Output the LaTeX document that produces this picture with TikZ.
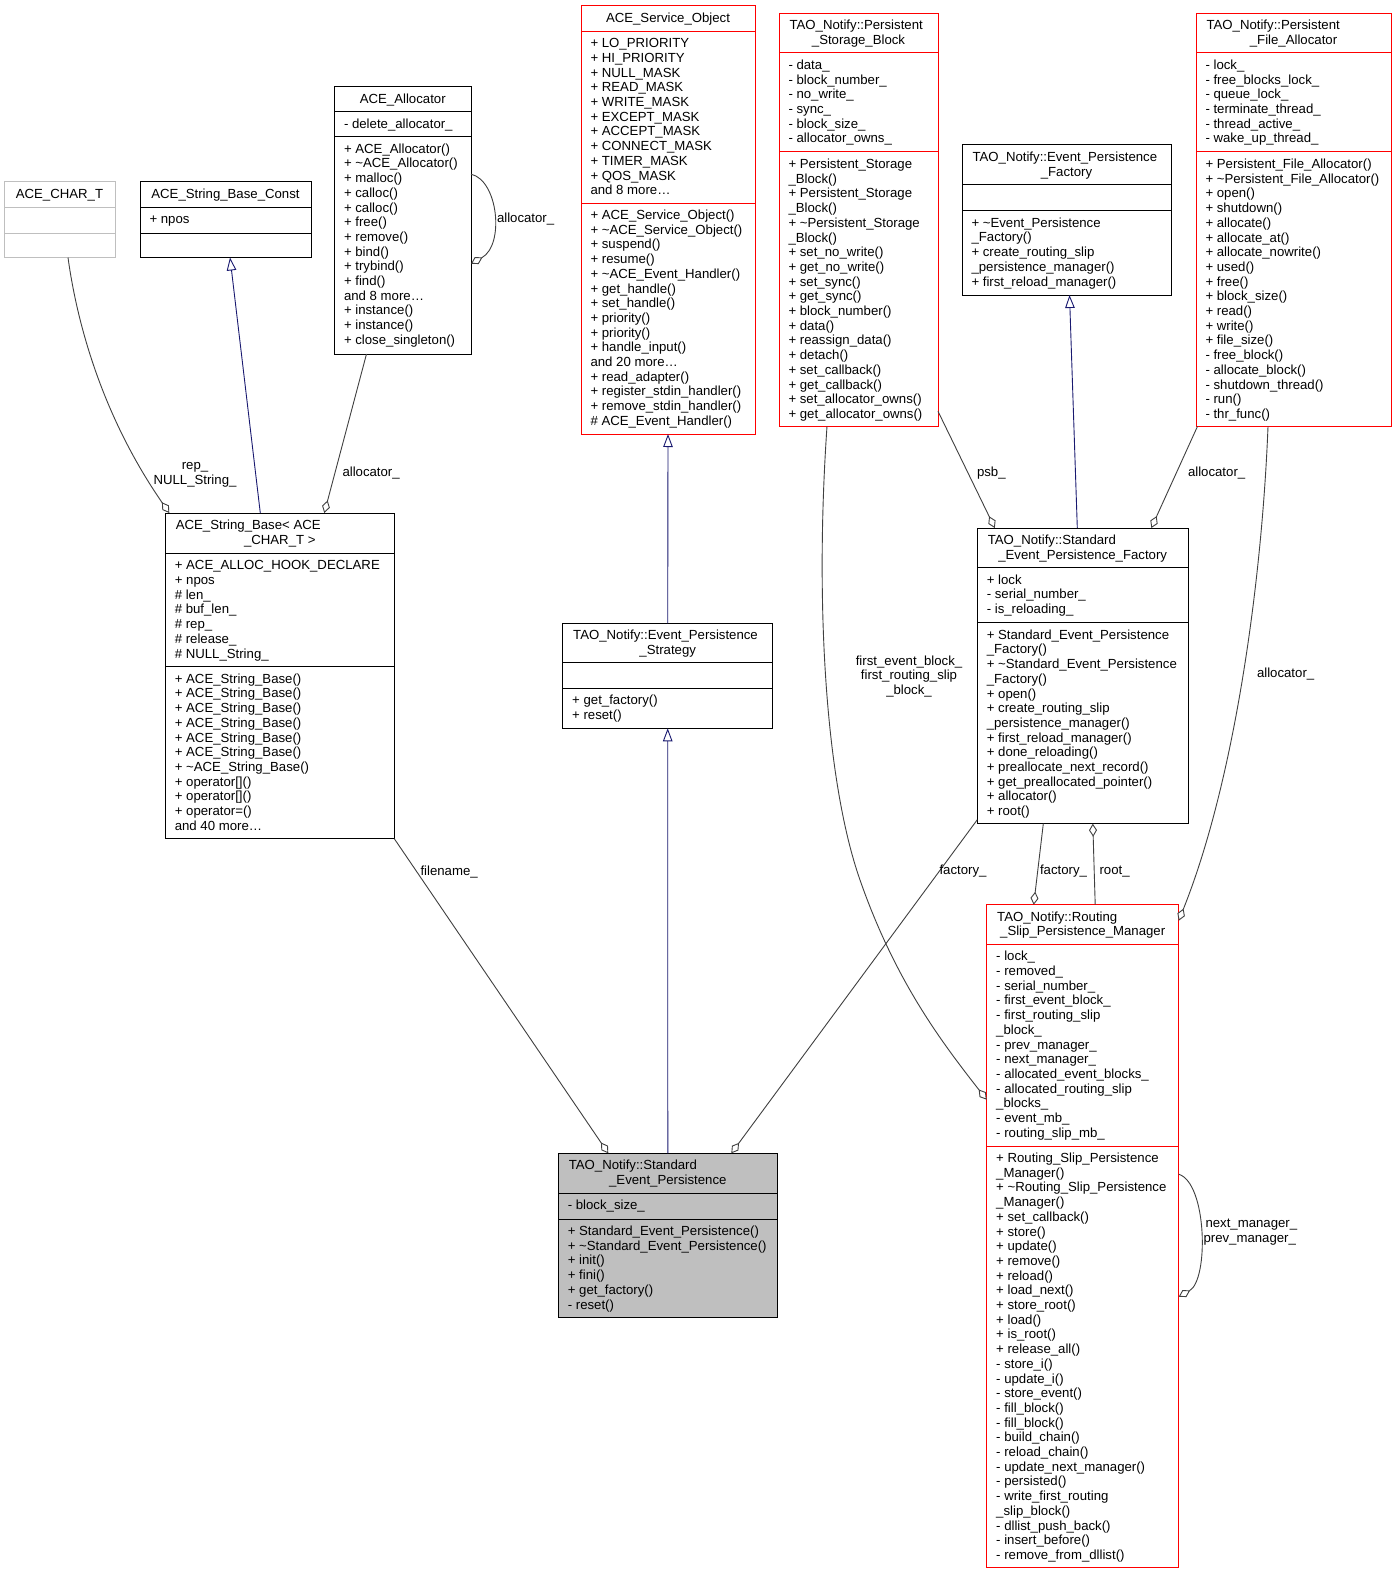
\documentclass[tikz,border=0pt]{standalone}
\usepackage{fontspec}
\setmainfont{Liberation Sans}
\usetikzlibrary{arrows.meta,calc,fit}
\definecolor{grey25}{HTML}{404040}
\definecolor{grey75}{HTML}{BFBFBF}
\definecolor{navyblue}{HTML}{191970}
\definecolor{boxred}{HTML}{FF0000}
\tikzset{
  txt/.style={inner sep=0pt, outer sep=0pt, font=\fontsize{13.2}{14.7}\selectfont},
  mem/.style={txt, anchor=base west},
  ctr/.style={txt, anchor=base},
  cls/.style={draw=black, line width=1pt, inner sep=0pt, outer sep=0pt},
  agg/.style={draw=grey25, line width=0.9pt, -{Diamond[fill=white, length=13pt, width=8pt]}},
  inh/.style={draw=navyblue, line width=0.9pt, -{Triangle[fill=white, length=13pt, width=9.5pt]}},
}
\newcommand\cbox[6]{\node[cls, fit={(#2,#3) (#4,#5)}, #6] (#1) {};}
\newcommand\divl[4]{\draw[line width=1pt, #4] (#1,#3) -- (#2,#3);}
\newcommand\mems[4]{\foreach \lbl [count=\i from 0] in {#4} {\node[mem] (#1\i) at (#2, #3+16.5+\i*14.7) {\lbl};}}
\newcommand\titleL[4]{\node[mem] (#1) at (#2,#3) {#4};}
\newcommand\titleC[4]{\node[ctr] (#1) at (#2,#3) {#4};}
\begin{document}
\begin{tikzpicture}[x=1pt,y=-1pt]
\fill[white] (0,0) rectangle (1396,1573);
\useasboundingbox (0,0) rectangle (1396,1573);

% ACE_CHAR_T
\cbox{charT}{4}{181.5}{115}{257.5}{draw=grey75}
\divl{4}{115}{207}{grey75}
\divl{4}{115}{233}{grey75}
\titleC{charTt}{59.5}{198}{ACE\_CHAR\_T}

% ACE_String_Base_Const
\cbox{sbconst}{140}{181.5}{311}{257.5}{}
\divl{140}{311}{207}{black}
\divl{140}{311}{233}{black}
\titleC{sbconstt}{225.5}{198}{ACE\_String\_Base\_Const}
\mems{sbca}{149.5}{207}{{+ npos}}

% ACE_Allocator
\cbox{alloc}{334.5}{86.7}{471}{354}{}
\divl{334.5}{471}{112}{black}
\divl{334.5}{471}{136.7}{black}
\titleC{alloct}{402.75}{103.2}{ACE\_Allocator}
\mems{alloca}{344}{112}{{- delete\_allocator\_}}
\mems{allocm}{344}{136.7}{{+ ACE\_Allocator()},{+ \textasciitilde ACE\_Allocator()},{+ malloc()},{+ calloc()},{+ calloc()},{+ free()},{+ remove()},{+ bind()},{+ trybind()},{+ find()},{and 8 more\ldots},{+ instance()},{+ instance()},{+ close\_singleton()}}

% ACE_Service_Object
\cbox{serv}{581}{5.7}{755}{434}{draw=boxred}
\divl{581}{755}{31.3}{boxred}
\divl{581}{755}{203}{boxred}
\titleC{servt}{668}{22.2}{ACE\_Service\_Object}
\mems{serva}{590.5}{31.3}{{+ LO\_PRIORITY},{+ HI\_PRIORITY},{+ NULL\_MASK},{+ READ\_MASK},{+ WRITE\_MASK},{+ EXCEPT\_MASK},{+ ACCEPT\_MASK},{+ CONNECT\_MASK},{+ TIMER\_MASK},{+ QOS\_MASK},{and 8 more\ldots}}
\mems{servm}{590.5}{203}{{+ ACE\_Service\_Object()},{+ \textasciitilde ACE\_Service\_Object()},{+ suspend()},{+ resume()},{+ \textasciitilde ACE\_Event\_Handler()},{+ get\_handle()},{+ set\_handle()},{+ priority()},{+ priority()},{+ handle\_input()},{and 20 more\ldots},{+ read\_adapter()},{+ register\_stdin\_handler()},{+ remove\_stdin\_handler()},{\# ACE\_Event\_Handler()}}

% TAO_Notify::Persistent_Storage_Block
\cbox{psb}{779}{13.3}{938}{426.3}{draw=boxred}
\divl{779}{938}{53}{boxred}
\divl{779}{938}{152}{boxred}
\titleL{psbt1}{789.5}{29.8}{TAO\_Notify::Persistent}
\titleC{psbt2}{858.5}{44.5}{\_Storage\_Block}
\mems{psba}{788.5}{53}{{- data\_},{- block\_number\_},{- no\_write\_},{- sync\_},{- block\_size\_},{- allocator\_owns\_}}
\mems{psbm}{788.5}{152}{{+ Persistent\_Storage},{\_Block()},{+ Persistent\_Storage},{\_Block()},{+ \textasciitilde Persistent\_Storage},{\_Block()},{+ set\_no\_write()},{+ get\_no\_write()},{+ set\_sync()},{+ get\_sync()},{+ block\_number()},{+ data()},{+ reassign\_data()},{+ detach()},{+ set\_callback()},{+ get\_callback()},{+ set\_allocator\_owns()},{+ get\_allocator\_owns()}}

% TAO_Notify::Event_Persistence_Factory
\cbox{epf}{962}{145}{1171}{295}{}
\divl{962}{1171}{185}{black}
\divl{962}{1171}{210.7}{black}
\titleL{epft1}{972.5}{161.5}{TAO\_Notify::Event\_Persistence}
\titleC{epft2}{1066.5}{176.2}{\_Factory}
\mems{epfm}{971.5}{210.7}{{+ \textasciitilde Event\_Persistence},{\_Factory()},{+ create\_routing\_slip},{\_persistence\_manager()},{+ first\_reload\_manager()}}

% TAO_Notify::Persistent_File_Allocator
\cbox{pfa}{1196}{13.3}{1391}{426.3}{draw=boxred}
\divl{1196}{1391}{53}{boxred}
\divl{1196}{1391}{152}{boxred}
\titleL{pfat1}{1206.5}{29.8}{TAO\_Notify::Persistent}
\titleC{pfat2}{1293.5}{44.5}{\_File\_Allocator}
\mems{pfaa}{1205.5}{53}{{- lock\_},{- free\_blocks\_lock\_},{- queue\_lock\_},{- terminate\_thread\_},{- thread\_active\_},{- wake\_up\_thread\_}}
\mems{pfam}{1205.5}{152}{{+ Persistent\_File\_Allocator()},{+ \textasciitilde Persistent\_File\_Allocator()},{+ open()},{+ shutdown()},{+ allocate()},{+ allocate\_at()},{+ allocate\_nowrite()},{+ used()},{+ free()},{+ block\_size()},{+ read()},{+ write()},{+ file\_size()},{- free\_block()},{- allocate\_block()},{- shutdown\_thread()},{- run()},{- thr\_func()}}

% ACE_String_Base< ACE_CHAR_T >
\cbox{sb}{165.3}{513}{394.3}{838.7}{}
\divl{165.3}{394.3}{553.3}{black}
\divl{165.3}{394.3}{666.7}{black}
\titleL{sbt1}{175.8}{529.5}{ACE\_String\_Base< ACE}
\titleC{sbt2}{279.8}{544.2}{\_CHAR\_T >}
\mems{sba}{174.8}{553.3}{{+ ACE\_ALLOC\_HOOK\_DECLARE},{+ npos},{\# len\_},{\# buf\_len\_},{\# rep\_},{\# release\_},{\# NULL\_String\_}}
\mems{sbm}{174.8}{666.7}{{+ ACE\_String\_Base()},{+ ACE\_String\_Base()},{+ ACE\_String\_Base()},{+ ACE\_String\_Base()},{+ ACE\_String\_Base()},{+ ACE\_String\_Base()},{+ \textasciitilde ACE\_String\_Base()},{+ operator[]()},{+ operator[]()},{+ operator=()},{and 40 more\ldots}}

% TAO_Notify::Event_Persistence_Strategy
\cbox{eps}{562.7}{623.3}{772.7}{728.3}{}
\divl{562.7}{772.7}{662.3}{black}
\divl{562.7}{772.7}{688.3}{black}
\titleL{epst1}{573.2}{639.8}{TAO\_Notify::Event\_Persistence}
\titleC{epst2}{667.7}{654.5}{\_Strategy}
\mems{epsm}{572.2}{688.3}{{+ get\_factory()},{+ reset()}}

% TAO_Notify::Standard_Event_Persistence_Factory
\cbox{sepf}{977.3}{528}{1188}{823.7}{}
\divl{977.3}{1188}{567.7}{black}
\divl{977.3}{1188}{622.7}{black}
\titleL{sepft1}{987.8}{544.5}{TAO\_Notify::Standard}
\titleC{sepft2}{1082.7}{559.2}{\_Event\_Persistence\_Factory}
\mems{sepfa}{986.8}{567.7}{{+ lock},{- serial\_number\_},{- is\_reloading\_}}
\mems{sepfm}{986.8}{622.7}{{+ Standard\_Event\_Persistence},{\_Factory()},{+ \textasciitilde Standard\_Event\_Persistence},{\_Factory()},{+ open()},{+ create\_routing\_slip},{\_persistence\_manager()},{+ first\_reload\_manager()},{+ done\_reloading()},{+ preallocate\_next\_record()},{+ get\_preallocated\_pointer()},{+ allocator()},{+ root()}}

% TAO_Notify::Routing_Slip_Persistence_Manager
\cbox{rspm}{986.7}{904.7}{1178.7}{1567.3}{draw=boxred}
\divl{986.7}{1178.7}{944.3}{boxred}
\divl{986.7}{1178.7}{1146}{boxred}
\titleL{rspmt1}{997.2}{921.2}{TAO\_Notify::Routing}
\titleC{rspmt2}{1082.7}{935.9}{\_Slip\_Persistence\_Manager}
\mems{rspma}{996.2}{944.3}{{- lock\_},{- removed\_},{- serial\_number\_},{- first\_event\_block\_},{- first\_routing\_slip},{\_block\_},{- prev\_manager\_},{- next\_manager\_},{- allocated\_event\_blocks\_},{- allocated\_routing\_slip},{\_blocks\_},{- event\_mb\_},{- routing\_slip\_mb\_}}
\mems{rspmm}{996.2}{1146}{{+ Routing\_Slip\_Persistence},{\_Manager()},{+ \textasciitilde Routing\_Slip\_Persistence},{\_Manager()},{+ set\_callback()},{+ store()},{+ update()},{+ remove()},{+ reload()},{+ load\_next()},{+ store\_root()},{+ load()},{+ is\_root()},{+ release\_all()},{- store\_i()},{- update\_i()},{- store\_event()},{- fill\_block()},{- fill\_block()},{- build\_chain()},{- reload\_chain()},{- update\_next\_manager()},{- persisted()},{- write\_first\_routing},{\_slip\_block()},{- dllist\_push\_back()},{- insert\_before()},{- remove\_from\_dllist()}}

% TAO_Notify::Standard_Event_Persistence
\cbox{sep}{558.3}{1153.3}{777.3}{1317.3}{fill=grey75}
\divl{558.3}{777.3}{1193.3}{black}
\divl{558.3}{777.3}{1219}{black}
\titleL{sept1}{568.8}{1169.8}{TAO\_Notify::Standard}
\titleC{sept2}{667.8}{1184.5}{\_Event\_Persistence}
\mems{sepa}{567.8}{1193.3}{{- block\_size\_}}
\mems{sepm}{567.8}{1219}{{+ Standard\_Event\_Persistence()},{+ \textasciitilde Standard\_Event\_Persistence()},{+ init()},{+ fini()},{+ get\_factory()},{- reset()}}

% connectors
\draw[agg] ($(charT.south west)+(64,0)$) .. controls (78,330) and (105,420) .. ($(sb.north west)+(4,0)$);
\draw[inh] ($(sb.north west)+(95,0)$) -- ($(sbconst.south west)+(90,0)$);
\draw[agg] ($(alloc.south west)+(32,0)$) -- ($(sb.north west)+(159,0)$);
\draw[agg] ($(alloc.north east)+(0,87.5)$) .. controls (498,180) and (505,245) .. ($(alloc.north east)+(0,177)$);
\draw[inh] (eps.north) -- (serv.south);
\draw[inh] (sep.north) -- (eps.south);
\draw[agg] (sb.south east) -- ($(sep.north west)+(50,0)$);
\draw[agg] ($(sepf.south west)+(0,-4)$) -- ($(sep.north west)+(173,0)$);
\draw[agg] ($(psb.south east)+(0,-15)$) -- ($(sepf.north west)+(17.5,0)$);
\draw[inh] ($(sepf.north west)+(100,0)$) -- ($(epf.south west)+(107.5,0)$);
\draw[agg] ($(pfa.south west)+(1.5,0)$) -- ($(sepf.north west)+(174,0)$);
\draw[agg] ($(pfa.south west)+(72,0)$) .. controls (1262,580) and (1235,780) .. ($(rspm.north east)+(0,16)$);
\draw[agg] ($(psb.south west)+(48,0)$) .. controls (815,600) and (825,780) .. (860,880) .. controls (895,980) and (940,1040) .. ($(rspm.north west)+(0,195)$);
\draw[agg] ($(sepf.south west)+(66,0)$) -- ($(rspm.north west)+(47,0)$);
\draw[agg] ($(rspm.north west)+(108.5,0)$) -- ($(sepf.south west)+(115.5,0)$);
\draw[agg] ($(rspm.north east)+(0,269.5)$) .. controls (1207,1183) and (1209,1280) .. ($(rspm.north east)+(0,392)$);

% connector labels
\node[ctr] (lrep) at (195,469) {rep\_};
\node[ctr] (lnull) at (195,484) {NULL\_String\_};
\node[mem] (lalloc1) at (342.5,476) {allocator\_};
\node[mem] (lalloc2) at (497,222.5) {allocator\_};
\node[mem] (lfile) at (420.5,875) {filename\_};
\node[mem] (lfact1) at (939.5,874.5) {factory\_};
\node[mem] (lpsb) at (977,476) {psb\_};
\node[mem] (lalloc3) at (1188,476) {allocator\_};
\node[mem] (lalloc4) at (1257,677) {allocator\_};
\node[ctr] (lfeb1) at (909,665) {first\_event\_block\_};
\node[ctr] (lfeb2) at (909,679.7) {first\_routing\_slip};
\node[ctr] (lfeb3) at (909,694.4) {\_block\_};
\node[mem] (lfact2) at (1040,874.5) {factory\_};
\node[mem] (lroot) at (1099.5,874.5) {root\_};
\node[mem] (lnext) at (1205.5,1227.5) {next\_manager\_};
\node[mem] (lprev) at (1203.5,1242.2) {prev\_manager\_};
\end{tikzpicture}
\end{document}
